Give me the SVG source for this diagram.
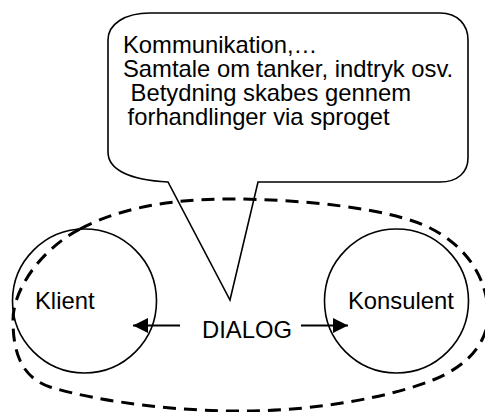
<svg xmlns="http://www.w3.org/2000/svg" width="485" height="412" viewBox="0 0 485 412">
  <style>
    .t { font-family: "Liberation Sans", Arial, sans-serif; font-size: 23.8px; fill: #000; }
    .line { fill: none; stroke: #000; stroke-width: 1.6; }
    .dash { fill: none; stroke: #000; stroke-width: 3; stroke-dasharray: 13 8; }
    .conn { fill: none; stroke: #000; stroke-width: 2; }
  </style>
  <defs>
    <marker id="ah" viewBox="0 0 10 10" refX="10" refY="5" markerWidth="8.5" markerHeight="7.5" markerUnits="strokeWidth" orient="auto">
      <path d="M0,0 L10,5 L0,10 Z" fill="#000"/>
    </marker>
  </defs>
  <rect width="485" height="412" fill="#fff"/>

  <g id="callout">
    <path class="line" d="M150,13 L440,13 C458,13 468,25 468,40 L468,158 C468,172 458,182 440,182 L258,182 L230,300 L168,182 C130,180 108,170 108,152 L108,40 C108,24 125,13 150,13 Z"/>
    <text class="t" x="123" y="53">Kommunikation,…</text>
    <text class="t" x="123" y="77">Samtale om tanker, indtryk osv.</text>
    <text class="t" x="124" y="101" xml:space="preserve"> Betydning skabes gennem</text>
    <text class="t" x="121" y="125" xml:space="preserve"> forhandlinger via sproget</text>
  </g>

  <g id="klient">
    <circle class="line" cx="84.5" cy="301" r="72"/>
    <text class="t" x="35" y="309">Klient</text>
  </g>

  <g id="konsulent">
    <circle class="line" cx="396.5" cy="301" r="72"/>
    <text class="t" x="348" y="309">Konsulent</text>
  </g>

  <g id="dialog-boundary">
    <path class="dash" d="M80,229 C120,208 170,199 230,199 C300,199 390,208 430,228 C460,243 485,270 488,310 C490,340 470,365 433,380 C390,397 320,410 250,411 C180,412 100,402 50,387 C20,377 13,350 13,320 C13,290 40,250 80,229 Z"/>
  </g>

  <g id="connectors">
    <line class="conn" x1="180" y1="325.5" x2="133" y2="325.5" marker-end="url(#ah)"/>
    <line class="conn" x1="301" y1="325.5" x2="348" y2="325.5" marker-end="url(#ah)"/>
  </g>

  <g id="dialog-label">
    <text class="t" x="202" y="338">DIALOG</text>
  </g>
</svg>
